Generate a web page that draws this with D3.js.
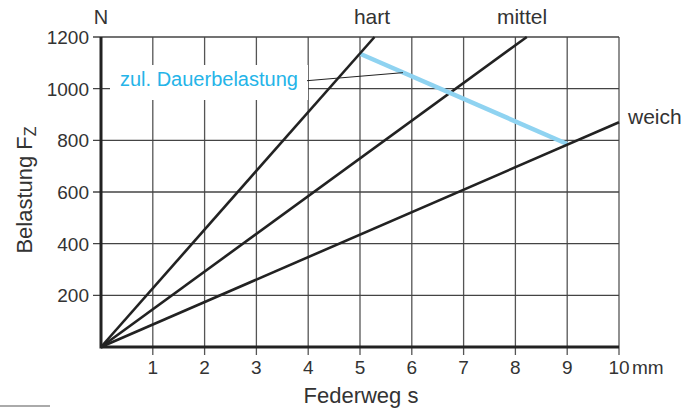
<!DOCTYPE html>
<html><head><meta charset="utf-8">
<script src="https://cdn.jsdelivr.net/npm/d3@7"></script>
<style>body{margin:0;background:#fff}svg{display:block}text{font-family:"Liberation Sans",Arial,sans-serif;fill:#333}</style>
</head><body><svg id="c" width="695" height="409"></svg>
<script>
const xTicks = [1,2,3,4,5,6,7,8,9,10];
const xTickLabels = ["1","2","3","4","5","6","7","8","9","10"];
const yTicks = [200,400,600,800,1000,1200];
const yTickLabels = ["200","400","600","800","1000","1200"];
const hart = [[0,0],[5.28,1200]];
const mittel = [[0,0],[8.22,1200]];
const weich = [[0,0],[10,870]];
const dauer = [[5.0,1135],[9.0,786]];
const seriesNames = ["hart","mittel","weich"];

const svg = d3.select("#c");
const m = {l:101, t:37, r:619, b:347};
const x = d3.scaleLinear().domain([0,10]).range([m.l, m.r]);
const y = d3.scaleLinear().domain([0,1200]).range([m.b, m.t]);

// grid
const g = svg.append("g");
g.selectAll(".vg").data(xTicks).join("line")
  .attr("x1", d=>x(d)).attr("x2", d=>x(d)).attr("y1", y(1200)).attr("y2", y(0)+8)
  .attr("stroke","#555").attr("stroke-width",1.3);
g.selectAll(".hg").data(yTicks).join("line")
  .attr("x1", x(0)-8).attr("x2", x(10)).attr("y1", d=>y(d)).attr("y2", d=>y(d))
  .attr("stroke","#444").attr("stroke-width",1.3);

// white box behind label
svg.append("rect").attr("x",110).attr("y",65).attr("width",198).attr("height",35).attr("fill","#fff");

// tick labels
svg.selectAll(".xl").data(xTicks.slice(0,9)).join("text")
  .attr("x", d=>x(d)).attr("y", 374).attr("text-anchor","middle").attr("font-size",19)
  .text((d,i)=>xTickLabels[i]);
svg.append("text").attr("x", x(10)).attr("y",374).attr("font-size",19).attr("text-anchor","middle").text(xTickLabels[9]);
svg.append("text").attr("x", x(10)+13).attr("y",374).attr("font-size",19).text("mm");
svg.selectAll(".yl").data(yTicks).join("text")
  .attr("x", 89).attr("y", d=>y(d)+7).attr("text-anchor","end").attr("font-size",19)
  .text((d,i)=>yTickLabels[i]);
svg.append("text").attr("x",101).attr("y",24).attr("text-anchor","middle").attr("font-size",20).text("N");

// axes
svg.append("line").attr("x1",x(0)).attr("x2",x(0)).attr("y1",y(1200)).attr("y2",y(0)+1.5)
  .attr("stroke","#222").attr("stroke-width",3);
svg.append("line").attr("x1",x(0)).attr("x2",x(10)).attr("y1",y(0)).attr("y2",y(0))
  .attr("stroke","#222").attr("stroke-width",3);

// lines
const line = d3.line().x(d=>x(d[0])).y(d=>y(d[1]));
svg.append("path").attr("d", line(mittel)).attr("fill","none").attr("stroke","#222").attr("stroke-width",2.6);
svg.append("path").attr("d", line(dauer)).attr("fill","none").attr("stroke","#8fd3f1").attr("stroke-width",4.5);
[hart,weich].forEach(s=>{
  svg.append("path").attr("d", line(s)).attr("fill","none").attr("stroke","#222").attr("stroke-width",2.6);
});

// leader line
svg.append("line").attr("x1",307).attr("y1",80.7).attr("x2",x(5.83)).attr("y2",y(1062))
  .attr("stroke","#222").attr("stroke-width",1);
svg.append("text").attr("x",120).attr("y",86).attr("font-size",20).style("fill","#25b4e8").text("zul. Dauerbelastung");

// series labels
svg.append("text").attr("x",372).attr("y",24).attr("text-anchor","middle").attr("font-size",21).text(seriesNames[0]);
svg.append("text").attr("x",522).attr("y",24).attr("text-anchor","middle").attr("font-size",21).text(seriesNames[1]);
svg.append("text").attr("x",628).attr("y",124).attr("font-size",21).text(seriesNames[2]);

// axis titles
svg.append("text").attr("x",361).attr("y",403).attr("text-anchor","middle").attr("font-size",22).text("Federweg s");
const yt = svg.append("text").attr("transform","translate(32,190) rotate(-90)").attr("text-anchor","middle").attr("font-size",22);
yt.append("tspan").text("Belastung F");
yt.append("tspan").attr("font-size",16).attr("dy",4).text("Z");

// stray mark bottom-left
svg.append("line").attr("x1",0).attr("x2",50).attr("y1",406).attr("y2",406).attr("stroke","#aaa").attr("stroke-width",2);
</script></body></html>
